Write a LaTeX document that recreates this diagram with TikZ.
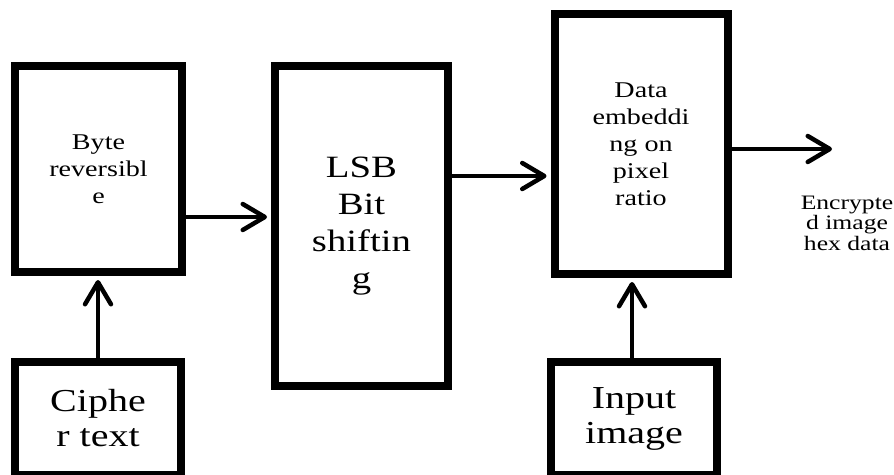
\documentclass[tikz,border=0pt]{standalone}
\usepackage{fontspec}
\setmainfont{Liberation Serif}[FakeStretch=1.25]
\usetikzlibrary{arrows.meta}

\tikzset{
  block/.style={draw, line width=8pt, align=center, inner sep=0pt, fill=white},
  flow/.style={line width=4.5pt,
    -{Straight Barb[length=22pt, width=26pt, line width=4.5pt, round]}},
  smalltxt/.style={font=\fontsize{22.5}{27}\selectfont},
  bigtxt/.style={font=\fontsize{31}{37}\selectfont},
  inputtxt/.style={font=\fontsize{32}{35}\selectfont},
  notetxt/.style={font=\fontsize{20.5}{20.5}\selectfont, align=center}
}

\begin{document}
\begin{tikzpicture}[x=1pt, y=-1pt]
  \useasboundingbox (0,0) rectangle (894,474);
  \clip (0,0) rectangle (894,474);

  % processing blocks
  \node[block, smalltxt, minimum width=167pt, minimum height=206pt]
    (rev) at (98.5,169) {Byte\\reversibl\\e};
  \node[block, bigtxt, minimum width=173pt, minimum height=320pt]
    (lsb) at (361.5,226) {LSB\\Bit\\shiftin\\g};
  \node[block, smalltxt, minimum width=173pt, minimum height=260pt]
    (embed) at (641,144) {Data\\embeddi\\ng on\\pixel\\ratio};

  % inputs
  \node[block, inputtxt, minimum width=166pt, minimum height=113pt]
    (cipher) at (98,418.5) {Ciphe\\r text};
  \node[block, inputtxt, minimum width=166pt, minimum height=113pt]
    (image) at (634,418.5) {Input\\image};

  % output label
  \node[notetxt] (out) at (847,223) {Encrypte\\d image\\hex data};
  \coordinate (outtip) at (832,149);

  % connectors
  \draw[flow, shorten >=4pt] ([yshift=-48pt]rev.east) -- ([yshift=-48pt]rev.east -| lsb.west);
  \draw[flow, shorten >=4pt] ([yshift=50pt]lsb.east) -- ([yshift=50pt]lsb.east -| embed.west);
  \draw[flow] ([yshift=-5pt]embed.east) -- (outtip);
  \draw[flow, shorten >=4pt] (cipher.north) -- (cipher.north |- rev.south);
  \draw[flow, shorten >=4pt] ([xshift=-2pt]image.north) -- ([xshift=-2pt]image.north |- embed.south);
\end{tikzpicture}
\end{document}
